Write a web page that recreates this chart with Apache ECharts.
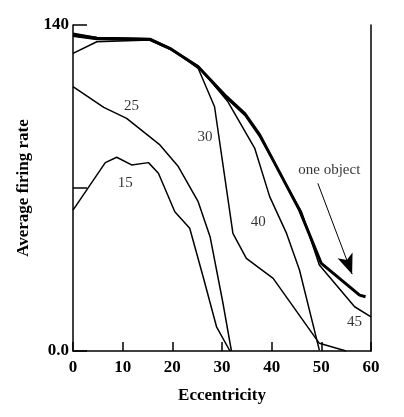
<!DOCTYPE html>
<html>
<head>
<meta charset="UTF-8">
<script src="https://cdn.jsdelivr.net/npm/echarts@6/dist/echarts.min.js"></script>
<style>
  html, body { margin: 0; background: #fff; }
  #chart { width: 404px; height: 417px; }
</style>
</head>
<body>
<div id="chart"></div>
<script>
// curves: [eccentricity, firing rate]
var curve15 = [[0,60.5],[6.5,80.9],[8.8,83.2],[11.8,79.9],[15.2,80.9],[17.2,76.3],[20.5,59.8],[23.5,52.7],[26.2,31.9],[28.9,10.4],[31.6,0]];
var curve25 = [[0,113.5],[6.2,104.6],[10.8,99.9],[17.5,88.5],[21.2,79.2],[25.2,64.1],[27.6,49.1],[30.2,20.5],[31.9,0]];
var curve30 = [[0,136.5],[4.8,134.6],[15.5,134.2],[19.5,130.2],[25.2,121.4],[28.5,104.9],[32.2,50.5],[34.9,39.8],[40.3,31.2],[49.6,3.3],[55,0]];
var curve40 = [[0,127.8],[4.8,132.8],[15.5,133.6],[19.5,129.8],[25.2,122.4],[31.2,107],[36.6,87],[39.6,66.3],[43,50.5],[45.6,34.8],[49.6,0.4]];
var curve45 = [[0,135.2],[4.8,133.8],[15.5,133.4],[19.5,129.6],[25.2,121.8],[30.9,108.6],[34.6,101.2],[37.6,92],[46,59.8],[49.6,36.9],[56.7,19],[60,14.7]];
var oneObject = [[0,135.7],[4.8,134.3],[15.5,133.8],[19.5,130],[25.2,122.1],[30.9,109.2],[34.6,102],[37.6,92.8],[45.6,60.5],[50,37.6],[57.7,24],[58.9,23.3]];
var curveLabels = [
  { value: [11.8,105], text: '25' },
  { value: [10.5,72], text: '15' },
  { value: [26.6,92], text: '30' },
  { value: [37.3,55.5], text: '40' },
  { value: [56.7,12.6], text: '45' },
  { value: [51.6,77.7], text: 'one object' }
];
var arrowFrom = [49.3, 72];
var arrowTo = [56.2, 33];

var serif = '"Liberation Serif", "DejaVu Serif", serif';
function line(data, w) {
  return { type: 'line', data: data, showSymbol: false, silent: true,
           lineStyle: { color: '#000', width: w } };
}
var chart = echarts.init(document.getElementById('chart'));
chart.setOption({
  animation: false,
  grid: { left: 73, right: 33, top: 25, bottom: 66 },
  xAxis: {
    type: 'value', min: 0, max: 60, interval: 10,
    name: 'Eccentricity', nameLocation: 'middle', nameGap: 36,
    nameTextStyle: { fontFamily: serif, fontWeight: 'bold', fontSize: 17, color: '#000' },
    axisLine: { lineStyle: { color: '#000', width: 1.5 } },
    axisTick: { inside: true, length: 9, lineStyle: { color: '#000', width: 1.5 } },
    axisLabel: { fontFamily: serif, fontWeight: 'bold', fontSize: 17, color: '#000', margin: 8 },
    splitLine: { show: false }
  },
  yAxis: [{
    type: 'value', min: 0, max: 140, interval: 70,
    name: 'Average firing rate', nameLocation: 'middle', nameGap: 14,
    nameTextStyle: { fontFamily: serif, fontWeight: 'bold', fontSize: 17, color: '#000' },
    axisLine: { show: true, lineStyle: { color: '#000', width: 1.5 } },
    axisTick: { inside: true, length: 14, lineStyle: { color: '#000', width: 1.5 } },
    axisLabel: { fontFamily: serif, fontWeight: 'bold', fontSize: 17, color: '#000', margin: 4,
      formatter: function (v) { return v === 0 ? '0.0' : (v === 140 ? '140' : ''); } },
    splitLine: { show: false }
  }, {
    type: 'value', min: 0, max: 140, position: 'right',
    axisLine: { show: true, lineStyle: { color: '#000', width: 1.5 } },
    axisTick: { show: false }, axisLabel: { show: false }, splitLine: { show: false }
  }],
  series: [
    line(curve15, 1.5), line(curve25, 1.5), line(curve30, 1.5),
    line(curve40, 1.5), line(curve45, 1.5),
    Object.assign(line(oneObject, 3), {
      markLine: {
        silent: true, symbol: ['none', 'arrow'], symbolSize: [12, 20],
        lineStyle: { color: '#000', width: 1, type: 'solid' }, label: { show: false },
        data: [[{ coord: arrowFrom }, { coord: arrowTo }]]
      }
    }),
    {
      type: 'scatter', symbolSize: 0, silent: true,
      data: curveLabels.map(function (d) { return { value: d.value, name: d.text }; }),
      label: { show: true, position: 'inside', formatter: '{b}',
               fontFamily: serif, fontSize: 15, color: '#000' }
    }
  ]
});
</script>
</body>
</html>
